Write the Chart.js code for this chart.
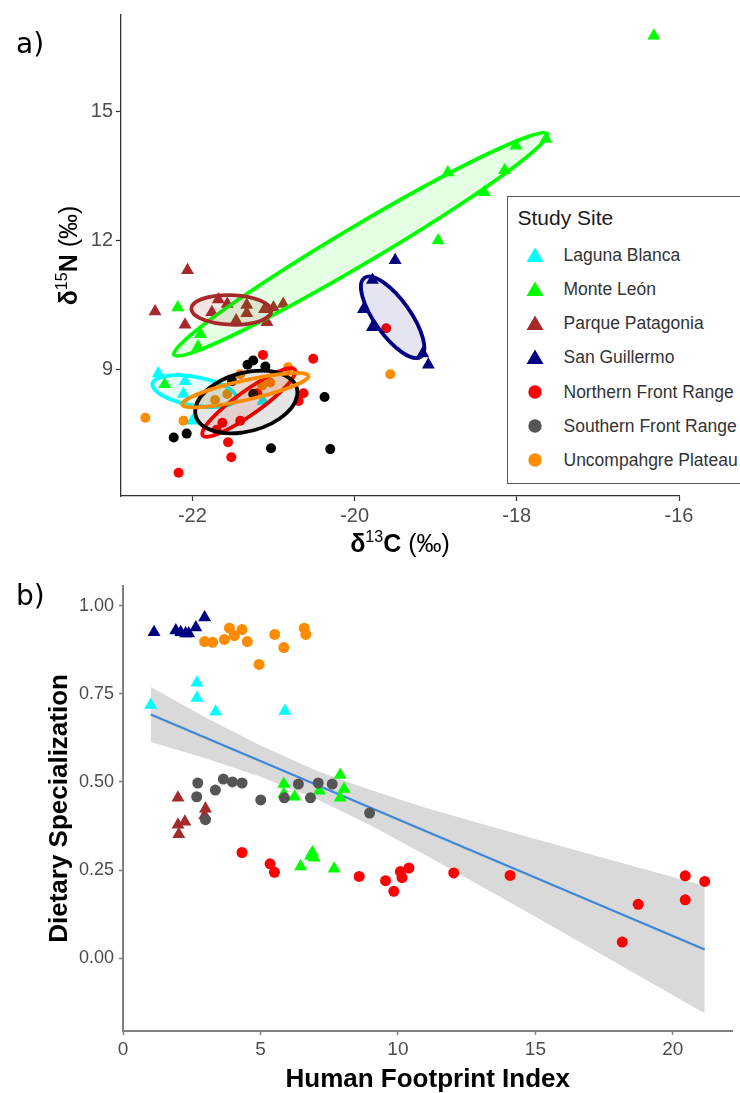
<!DOCTYPE html>
<html>
<head>
<meta charset="utf-8">
<title>Isotopes and dietary specialization</title>
<script src="https://cdn.jsdelivr.net/npm/chart.js@4.4.1/dist/chart.umd.min.js"></script>
<style>
  html, body { margin:0; padding:0; background:#fff; }
  #wrap { position:relative; width:740px; height:1093px; overflow:hidden; background:#fff; }
  #wrap canvas { position:absolute; left:0; }
  #ca { top:0; }
  #cb { top:570px; }
  .plab { position:absolute; font-family:"DejaVu Sans", sans-serif; font-size:28px; line-height:1; color:#000; }
  #legend { position:absolute; left:507px; top:196px; width:250px; height:288px; box-sizing:border-box; border:1.5px solid #595959; background:#fff; font-family:"Liberation Sans", Arial, sans-serif; }
  #legend .ttl { position:absolute; left:9.5px; top:20.5px; transform:translateY(-50%); font-size:21px; color:#1a1a1a; white-space:nowrap; line-height:1.2; }
  #legend .it { position:absolute; left:0; height:0; width:100%; }
  #legend .it svg { position:absolute; left:17.5px; top:-9px; }
  #legend .it span { position:absolute; left:55.5px; top:0; transform:translateY(-50%); font-size:17.5px; color:#333; white-space:nowrap; line-height:1.2; }
</style>
</head>
<body>
<div id="wrap">
  <canvas id="ca" width="740" height="570"></canvas>
  <canvas id="cb" width="740" height="523"></canvas>
  <div class="plab" style="left:16px;top:30px;">a)</div>
  <div class="plab" style="left:16px;top:582px;">b)</div>
  <div id="legend"><div class="ttl">Study Site</div></div>
</div>
<script>
// ---------------- data ----------------
const siteNames = ["Laguna Blanca", "Monte León", "Parque Patagonia", "San Guillermo",
                   "Northern Front Range", "Southern Front Range", "Uncompahgre Plateau"];

// panel a: [δ13C, δ15N]
const isoLagunaBlanca = [[-22.42,8.91],[-22.09,8.73],[-22.11,8.43],[-22.0,7.81],[-21.13,8.27]];
const isoMonteLeon = [[-16.31,16.76],[-17.64,14.36],[-18.01,14.20],[-18.15,13.63],[-18.40,13.12],
                      [-18.85,13.58],[-18.97,12.0],[-22.18,10.44],[-21.90,9.82],[-21.93,9.53],[-22.34,8.66]];
const isoParquePatagonia = [[-22.06,11.31],[-22.46,10.35],[-22.09,10.04],[-21.68,10.63],[-21.76,10.33],
                            [-21.57,10.52],[-21.33,10.50],[-21.33,10.31],[-21.46,10.14],[-21.11,10.40],
                            [-21.0,10.44],[-20.88,10.52],[-21.08,10.10]];
const isoSanGuillermo = [[-19.50,11.54],[-19.78,11.08],[-19.89,10.40],[-19.78,9.98],[-19.16,9.37],[-19.09,9.11]];
const isoNorthernFR = [[-21.13,9.34],[-20.51,9.25],[-20.63,8.45],[-20.69,8.27],[-21.20,8.45],[-21.41,7.81],
                       [-21.56,7.31],[-21.52,6.96],[-22.17,6.60],[-21.63,7.76],[-19.61,9.96],[-21.70,7.60]];
const isoSouthernFR = [[-21.32,9.11],[-21.25,9.21],[-21.10,9.07],[-22.23,7.42],[-22.07,7.51],[-21.03,7.17],
                       [-20.30,7.15],[-20.37,8.36],[-21.25,8.43],[-21.51,8.73]];
const isoUncompahgre = [[-22.58,7.88],[-22.11,7.81],[-21.72,8.29],[-21.57,8.43],[-21.41,8.89],[-21.04,8.70],
                        [-20.82,9.05],[-21.14,8.63],[-19.56,8.89]];

// ellipses (data units): centre, end of major semi-axis, end of minor semi-axis
const ellipseCentres   = [[-21.975,8.496],[-19.925,11.908],[-21.52,10.385],[-19.531,10.214],[-21.304,8.233],[-21.335,8.244],[-21.347,8.519]];
const ellipseMajorEnds = [[-21.458,8.359],[-17.623,14.48],[-21.027,10.358],[-19.185,9.295],[-20.736,9.0],[-20.707,8.405],[-20.568,8.853]];
const ellipseMinorEnds = [[-22.0,8.84],[-19.804,11.535],[-21.52,10.729],[-19.35,10.45],[-21.217,8.011],[-21.286,8.954],[-21.32,8.297]];

const xTicksA = [-22, -20, -18, -16];
const yTicksA = [9, 12, 15];

// panel b: [Human Footprint Index, Dietary Specialization]
const specLagunaBlanca = [[1.01,0.718],[2.69,0.781],[2.69,0.738],[3.37,0.699],[5.89,0.701]];
const specMonteLeon = [[5.85,0.494],[5.85,0.466],[6.24,0.458],[7.14,0.475],[7.90,0.520],[8.04,0.480],[7.90,0.455],
                       [6.89,0.300],[6.82,0.290],[6.95,0.285],[6.46,0.260],[7.68,0.254]];
const specParquePatagonia = [[2.0,0.455],[2.0,0.379],[2.03,0.352],[2.25,0.387],[3.0,0.424],[2.97,0.405]];
const specSanGuillermo = [[1.13,0.924],[1.92,0.929],[2.10,0.924],[2.28,0.921],[2.39,0.921],[2.65,0.938],[2.97,0.966]];
const specNorthernFR = [[4.33,0.300],[5.35,0.268],[5.51,0.244],[8.59,0.232],[9.55,0.220],[9.85,0.190],[10.09,0.246],
                        [10.15,0.229],[10.40,0.256],[12.03,0.242],[14.08,0.235],[18.16,0.046],[18.74,0.153],
                        [20.45,0.234],[20.45,0.166],[21.16,0.218]];
const specSouthernFR = [[2.72,0.497],[2.68,0.458],[3.36,0.477],[3.65,0.508],[3.98,0.500],[4.33,0.497],[5.01,0.449],
                        [5.87,0.455],[6.38,0.494],[6.82,0.455],[7.10,0.497],[7.61,0.494],[8.97,0.412],[3.00,0.393]];
const specUncompahgre = [[2.97,0.898],[3.26,0.896],[3.69,0.904],[3.87,0.936],[4.05,0.915],[4.33,0.932],[4.52,0.898],
                         [4.95,0.833],[5.52,0.918],[5.85,0.881],[6.59,0.936],[6.65,0.918]];

const fitX = [1.01, 21.16];
const fitY = [0.691, 0.025];
const bandX     = [1.01, 3, 5, 7, 9, 11, 13, 15, 17, 19, 21.16];
const bandUpper = [0.769, 0.683, 0.603, 0.533, 0.477, 0.427, 0.382, 0.338, 0.295, 0.252, 0.206];
const bandLower = [0.613, 0.567, 0.515, 0.453, 0.377, 0.293, 0.206, 0.118, 0.029, -0.060, -0.156];

const xTicksB = [0, 5, 10, 15, 20];
const yTicksB = [0, 0.25, 0.5, 0.75, 1.0];

// ---------------- styles ----------------
const isoSets  = [isoLagunaBlanca, isoMonteLeon, isoParquePatagonia, isoSanGuillermo, isoNorthernFR, isoSouthernFR, isoUncompahgre];
const specSets = [specLagunaBlanca, specMonteLeon, specParquePatagonia, specSanGuillermo, specNorthernFR, specSouthernFR, specUncompahgre];
const shapes   = ["triangle","triangle","triangle","triangle","circle","circle","circle"];
const colorsA  = ["#00FFFF","#00FF00","#A52A2A","#000080","#FF0000","#000000","#FF8C00"];
const colorsB  = ["#00FFFF","#00FF00","#A52A2A","#000080","#FF0000","#555555","#FF8C00"];
const fillsA   = ["rgba(0,255,255,0.1)","rgba(0,255,0,0.1)","rgba(165,42,42,0.12)","rgba(0,0,128,0.1)",
                  "rgba(255,0,0,0.1)","rgba(0,0,0,0.1)","rgba(255,140,0,0.1)"];

const FONT = "'Liberation Sans', Arial, sans-serif";
Chart.defaults.font.family = FONT;

// ---------------- panel a ----------------
const ellipsePlugin = {
  id: 'ellipses',
  afterDatasetsDraw(chart) {
    const {ctx, chartArea: ca} = chart;
    const sx = chart.scales.x, sy = chart.scales.y;
    ctx.save();
    ctx.beginPath(); ctx.rect(ca.left, ca.top, ca.right - ca.left, ca.bottom - ca.top); ctx.clip();
    for (let i = 0; i < ellipseCentres.length; i++) {
      const cx = sx.getPixelForValue(ellipseCentres[i][0]), cy = sy.getPixelForValue(ellipseCentres[i][1]);
      const ax = sx.getPixelForValue(ellipseMajorEnds[i][0]) - cx, ay = sy.getPixelForValue(ellipseMajorEnds[i][1]) - cy;
      const bx = sx.getPixelForValue(ellipseMinorEnds[i][0]) - cx, by = sy.getPixelForValue(ellipseMinorEnds[i][1]) - cy;
      ctx.save();
      ctx.beginPath();
      ctx.transform(ax, ay, bx, by, cx, cy);
      ctx.arc(0, 0, 1, 0, Math.PI * 2);
      ctx.restore();
      ctx.fillStyle = fillsA[i];
      ctx.fill();
      ctx.lineWidth = 3.8;
      ctx.strokeStyle = colorsA[i];
      ctx.stroke();
    }
    ctx.restore();
  }
};

function drawRich(ctx, parts, cx, cy, rot) {
  ctx.save();
  ctx.translate(cx, cy);
  ctx.rotate(rot);
  let w = 0;
  parts.forEach(p => { ctx.font = p.font; p.w = ctx.measureText(p.text).width; w += p.w; });
  let x = -w / 2;
  ctx.fillStyle = '#000';
  ctx.textBaseline = 'alphabetic';
  parts.forEach(p => { ctx.font = p.font; ctx.fillText(p.text, x, 9 + p.dy); x += p.w; });
  ctx.restore();
}

const titlesA = {
  id: 'titlesA',
  afterDraw(chart) {
    const {ctx, chartArea: ca} = chart;
    const big = "bold 25px " + FONT, reg = "25px " + FONT, sup = "16px " + FONT;
    drawRich(ctx, [
      {text: 'δ', font: big, dy: 0}, {text: '13', font: sup, dy: -10},
      {text: 'C', font: big, dy: 0}, {text: ' (‰)', font: reg, dy: 0}
    ], (ca.left + ca.right) / 2, 543, 0);
    drawRich(ctx, [
      {text: 'δ', font: big, dy: 0}, {text: '15', font: sup, dy: -10},
      {text: 'N', font: big, dy: 0}, {text: ' (‰)', font: reg, dy: 0}
    ], 68, (ca.top + ca.bottom) / 2, -Math.PI / 2);
  }
};

const axisA = (ticks, fitFn) => ({
  type: 'linear',
  afterBuildTicks: s => { s.ticks = ticks.map(v => ({value: v})); },
  afterFit: fitFn,
  ticks: { font: {size: 20, family: FONT}, color: '#4d4d4d', padding: 3 },
  grid: { display: true, drawOnChartArea: false, drawTicks: true, tickLength: 5, tickColor: '#333', tickWidth: 1.2, color: '#333' },
  border: { display: true, color: '#333', width: 1.3 }
});

new Chart(document.getElementById('ca'), {
  type: 'scatter',
  data: {
    datasets: isoSets.map((set, i) => ({
      label: siteNames[i],
      data: set.map(p => ({x: p[0], y: p[1]})),
      pointStyle: shapes[i],
      pointRadius: shapes[i] === 'triangle' ? 7.5 : 5,
      pointBackgroundColor: colorsA[i],
      pointBorderColor: colorsA[i],
      pointBorderWidth: 0,
      order: 7 - i
    }))
  },
  options: {
    responsive: false, animation: false, events: [],
    layout: { padding: { left: 0, top: 8, right: 61, bottom: 0 } },
    plugins: { legend: { display: false }, tooltip: { enabled: false } },
    scales: {
      x: Object.assign(axisA(xTicksA, s => { s.height = 74; }), { min: -22.88, max: -16.0 }),
      y: Object.assign(axisA(yTicksA, s => { s.width = 121; }), { min: 6.06, max: 17.24 })
    }
  },
  plugins: [ellipsePlugin, titlesA]
});

// legend (HTML)
const legendBox = document.getElementById('legend');
siteNames.forEach((name, i) => {
  const it = document.createElement('div');
  it.className = 'it';
  it.style.top = (57.5 + i * 34.3) + 'px';
  const marker = shapes[i] === 'triangle'
    ? '<polygon points="0.5,16 9,1.5 17.5,16" fill="' + colorsB[i] + '"/>'
    : '<circle cx="9" cy="9" r="6.7" fill="' + colorsB[i] + '"/>';
  it.innerHTML = '<svg width="18" height="18" viewBox="0 0 18 18">' + marker + '</svg><span>' + name + '</span>';
  legendBox.appendChild(it);
});

// ---------------- panel b ----------------
const axisB = (ticks, fitFn) => ({
  type: 'linear',
  afterBuildTicks: s => { s.ticks = ticks.map(v => ({value: v})); },
  afterFit: fitFn,
  grid: { display: true, drawOnChartArea: false, drawTicks: true, tickLength: 4, tickColor: '#808080', tickWidth: 1.5, color: '#808080' },
  border: { display: true, color: '#808080', width: 2 }
});

new Chart(document.getElementById('cb'), {
  type: 'scatter',
  data: {
    datasets: [
      { type: 'line', label: 'ci upper', data: bandX.map((x, i) => ({x, y: bandUpper[i]})),
        borderColor: 'rgba(0,0,0,0)', borderWidth: 0, pointRadius: 0, fill: '+1',
        backgroundColor: '#d9d9d9', tension: 0, order: 20 },
      { type: 'line', label: 'ci lower', data: bandX.map((x, i) => ({x, y: bandLower[i]})),
        borderColor: 'rgba(0,0,0,0)', borderWidth: 0, pointRadius: 0, fill: false, order: 21 },
      { type: 'line', label: 'fit', data: fitX.map((x, i) => ({x, y: fitY[i]})),
        borderColor: '#3d86d8', borderWidth: 2.2, pointRadius: 0, fill: false, order: 10 }
    ].concat(specSets.map((set, i) => ({
      label: siteNames[i],
      data: set.map(p => ({x: p[0], y: p[1]})),
      pointStyle: shapes[i],
      pointRadius: shapes[i] === 'triangle' ? 7.5 : 5.5,
      pointBackgroundColor: colorsB[i],
      pointBorderColor: colorsB[i],
      pointBorderWidth: 0,
      order: 8 - i
    })))
  },
  options: {
    responsive: false, animation: false, events: [],
    layout: { padding: { left: 0, top: 14, right: 0, bottom: 0 } },
    plugins: { legend: { display: false }, tooltip: { enabled: false } },
    scales: {
      x: Object.assign(axisB(xTicksB, s => { s.height = 62; }), {
        min: 0, max: 22.17,
        ticks: { font: {size: 19, family: "'Liberation Sans Narrow', " + FONT}, color: '#4d4d4d', padding: 3 },
        title: { display: true, text: 'Human Footprint Index', color: '#000',
                 font: {size: 26, weight: 'bold', family: FONT, lineHeight: 1}, padding: {top: 0, bottom: 0} }
      }),
      y: Object.assign(axisB(yTicksB, s => { s.width = 123; }), {
        min: -0.206, max: 1.056,
        ticks: { font: {size: 18, family: FONT}, color: '#4d4d4d', padding: 5, callback: v => Number(v).toFixed(2) },
        title: { display: true, text: 'Dietary Specialization', color: '#000',
                 font: {size: 26, weight: 'bold', family: FONT, lineHeight: 1}, padding: {top: 47, bottom: 0} }
      })
    }
  }
});
</script>
</body>
</html>
